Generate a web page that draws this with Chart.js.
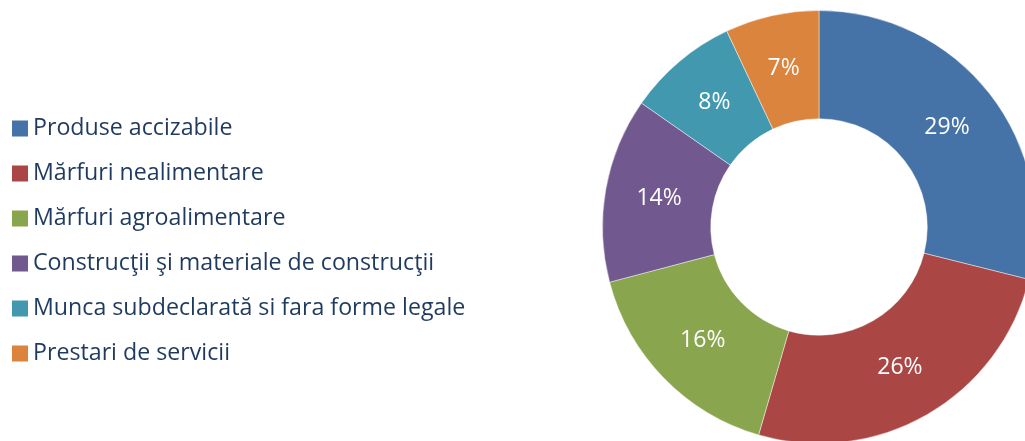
<!DOCTYPE html>
<html>
<head>
<meta charset="utf-8">
<script src="https://cdn.jsdelivr.net/npm/chart.js@4.4.1/dist/chart.umd.min.js"></script>
<style>
    html, body { margin: 0; padding: 0; background: #ffffff; overflow: hidden; }
    #wrap { position: absolute; left: 0; top: 0; width: 1036px; height: 444px; }
</style>
</head>
<body>
<div id="wrap"><canvas id="donutChart" width="1036" height="444"></canvas></div>
<script>
// Chart data
const categories = [
    'Produse accizabile',
    'Mărfuri nealimentare',
    'Mărfuri agroalimentare',
    'Construcţii şi materiale de construcţii',
    'Munca subdeclarată si fara forme legale',
    'Prestari de servicii'
];
const shares = [28.9, 25.6, 16.4, 13.8, 8.3, 7.0];
const sliceColors = ['#4572A7', '#AA4643', '#89A54E', '#71588F', '#4198AF', '#DB843D'];

// Legend drawn on the left side of the canvas
const sideLegend = {
    id: 'sideLegend',
    afterDraw: function (chart) {
        const ctx = chart.ctx;
        const labels = chart.data.labels;
        const colors = chart.data.datasets[0].backgroundColor;
        ctx.save();
        ctx.textBaseline = 'middle';
        ctx.textAlign = 'left';
        // stretch text so the longest label ends where the original one does
        ctx.font = '21px "Open Sans"';
        const longest = Math.max.apply(null, labels.map(function (l) { return ctx.measureText(l).width; }));
        const size = Math.min(24, 21 * 432 / longest);
        ctx.font = size.toFixed(1) + 'px "Open Sans"';
        labels.forEach(function (label, i) {
            const y = 128.5 + i * 45;
            ctx.fillStyle = colors[i];
            ctx.fillRect(12, y - 8, 16, 16);
            ctx.fillStyle = '#1F3A5F';
            ctx.fillText(label, 33, y);
        });
        ctx.restore();
    }
};

// Percentage labels inside the slices
const sliceLabels = {
    id: 'sliceLabels',
    afterDatasetsDraw: function (chart) {
        const ctx = chart.ctx;
        const meta = chart.getDatasetMeta(0);
        const values = chart.data.datasets[0].data;
        ctx.save();
        ctx.font = '23px "Open Sans"';
        ctx.fillStyle = '#ffffff';
        ctx.textAlign = 'center';
        ctx.textBaseline = 'middle';
        meta.data.forEach(function (arc, i) {
            const pos = arc.tooltipPosition();
            ctx.fillText(Math.round(values[i]) + '%', pos.x, pos.y);
        });
        ctx.restore();
    }
};

const ctxDonut = document.getElementById('donutChart').getContext('2d');

new Chart(ctxDonut, {
    type: 'doughnut',
    data: {
        labels: categories,
        datasets: [{
            data: shares,
            backgroundColor: sliceColors,
            borderColor: 'rgba(255, 255, 255, 0.45)',
            borderWidth: 1
        }]
    },
    options: {
        responsive: false,
        animation: false,
        cutout: '50%',
        layout: {
            padding: { top: 10, left: 602, right: 0, bottom: 0 }
        },
        plugins: {
            legend: { display: false },
            tooltip: { enabled: false }
        }
    },
    plugins: [sideLegend, sliceLabels]
});
</script>
</body>
</html>
